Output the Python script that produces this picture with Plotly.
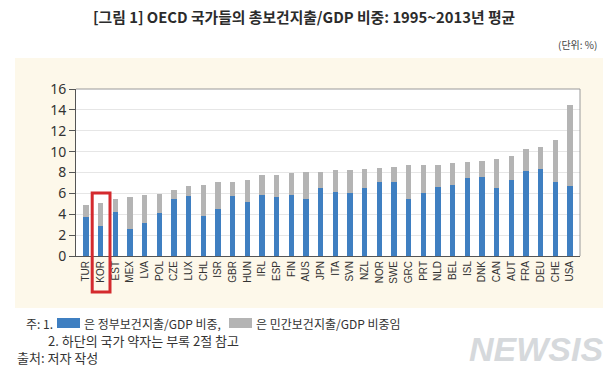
import plotly.graph_objects as go

countries = ["TUR", "KOR", "EST", "MEX", "LVA", "POL", "CZE", "LUX", "CHL", "ISR", "GBR", "HUN",
             "IRL", "ESP", "FIN", "AUS", "JPN", "ITA", "SVN", "NZL", "NOR", "SWE", "GRC", "PRT",
             "NLD", "BEL", "ISL", "DNK", "CAN", "AUT", "FRA", "DEU", "CHE", "USA"]
public_share = [3.70, 2.87, 4.20, 2.56, 3.20, 4.12, 5.48, 5.76, 3.79, 4.53, 5.76, 5.20,
                5.85, 5.70, 5.85, 5.50, 6.55, 6.15, 6.04, 6.56, 7.06, 7.12, 5.49, 6.07,
                6.57, 6.77, 7.44, 7.57, 6.50, 7.28, 8.15, 8.34, 7.06, 6.69]
private_share = [1.18, 2.19, 1.27, 3.12, 2.63, 1.86, 0.85, 0.92, 3.05, 2.58, 1.35, 2.07,
                 1.93, 2.08, 2.11, 2.57, 1.52, 2.05, 2.21, 1.78, 1.34, 1.41, 3.20, 2.67,
                 2.17, 2.11, 1.60, 1.53, 2.80, 2.30, 2.07, 2.11, 4.03, 7.76]
y_ticks = [0, 2, 4, 6, 8, 10, 12, 14, 16]

W, H = 616, 375
L, R, T, B = 76, 580, 89, 256  # plot area in pixels


def px(x):
    return (x - L) / (R - L)


def py(y):
    return (B - y) / (B - T)


BLUE = "#3f7fc1"
GRAY = "#b4b4b4"
KFONT = "Noto Sans CJK KR"

fig = go.Figure()
fig.add_trace(go.Bar(x=countries, y=public_share, marker=dict(color=BLUE, line=dict(width=0)),
                     name="정부보건지출/GDP"))
fig.add_trace(go.Bar(x=countries, y=private_share, marker=dict(color=GRAY, line=dict(width=0)),
                     name="민간보건지출/GDP"))

shapes = [
    # cream panel
    dict(type="rect", xref="paper", yref="paper", x0=px(15), x1=px(603), y0=py(308), y1=py(58),
         fillcolor="#fdf8ea", line=dict(width=0), layer="below"),
    # white plot area
    dict(type="rect", xref="paper", yref="paper", x0=0, x1=1, y0=0, y1=1,
         fillcolor="white", line=dict(width=0), layer="below"),
    # top / right frame
    dict(type="line", xref="paper", yref="paper", x0=0, x1=1, y0=1, y1=1,
         line=dict(color="#9a9a9a", width=1)),
    dict(type="line", xref="paper", yref="paper", x0=1, x1=1, y0=0, y1=1,
         line=dict(color="#9a9a9a", width=1)),
    # red highlight box around KOR
    dict(type="rect", xref="paper", yref="paper", x0=px(92.2), x1=px(110), y0=py(292), y1=py(193),
         line=dict(color="#d42a2e", width=3), fillcolor="rgba(0,0,0,0)"),
    # legend swatches in notes
    dict(type="rect", xref="paper", yref="paper", x0=px(57), x1=px(80), y0=py(328), y1=py(318),
         fillcolor=BLUE, line=dict(width=0)),
    dict(type="rect", xref="paper", yref="paper", x0=px(229), x1=px(252), y0=py(328), y1=py(318),
         fillcolor=GRAY, line=dict(width=0)),
]

ann = [
    dict(text="<b>[그림 1] OECD 국가들의 총보건지출/GDP 비중: 1995~2013년 평균</b>",
         x=px(304), y=py(17), xanchor="center", yanchor="middle",
         font=dict(family=KFONT, size=14.8, color="#2b2b2b")),
    dict(text="(단위: %)", x=px(599), y=py(45), xanchor="right", yanchor="middle",
         font=dict(family=KFONT, size=10, color="#444444")),
    dict(text="주: 1.", x=px(55), y=py(323), xanchor="right", yanchor="middle",
         font=dict(family=KFONT, size=12, color="#333333")),
    dict(text="은 정부보건지출/GDP 비중,", x=px(82), y=py(323), xanchor="left", yanchor="middle",
         font=dict(family=KFONT, size=12, color="#333333")),
    dict(text="은 민간보건지출/GDP 비중임", x=px(254), y=py(323), xanchor="left", yanchor="middle",
         font=dict(family=KFONT, size=12, color="#333333")),
    dict(text="2. 하단의 국가 약자는 부록 2절 참고", x=px(46), y=py(340), xanchor="left", yanchor="middle",
         font=dict(family=KFONT, size=13, color="#333333")),
    dict(text="출처: 저자 작성", x=px(15), y=py(357), xanchor="left", yanchor="middle",
         font=dict(family=KFONT, size=13, color="#333333")),
    dict(text="<b><i>NEWSIS</i></b>", x=px(605), y=py(349), xanchor="right", yanchor="middle",
         font=dict(family="Liberation Sans", size=34, color="#d6d9dc")),
]
for a in ann:
    a.update(xref="paper", yref="paper", showarrow=False)

fig.update_layout(
    width=W, height=H,
    margin=dict(l=L, r=W - R, t=T, b=H - B, pad=0),
    paper_bgcolor="white", plot_bgcolor="white",
    barmode="stack", bargap=0.63,
    showlegend=False,
    shapes=shapes, annotations=ann,
    xaxis=dict(range=[-0.68, len(countries) - 0.32], tickangle=-90,
               tickfont=dict(family="Liberation Sans Narrow, Liberation Sans", size=10, color="#333333"),
               showline=True, linecolor="#555555", linewidth=1, ticks="", showgrid=False,
               fixedrange=True),
    yaxis=dict(range=[0, 16], tickvals=y_ticks, ticktext=[str(v) for v in y_ticks],
               tickfont=dict(family="Noto Sans", size=14, color="#333333"),
               showline=True, linecolor="#555555", linewidth=1,
               ticks="outside", ticklen=6, tickcolor="#555555",
               showgrid=True, gridcolor="#e6e6e6", gridwidth=1, zeroline=False,
               fixedrange=True),
)

fig.write_html("out.html", config={"displayModeBar": False},
               post_script="document.body.style.margin='0';document.body.style.padding='0';")
